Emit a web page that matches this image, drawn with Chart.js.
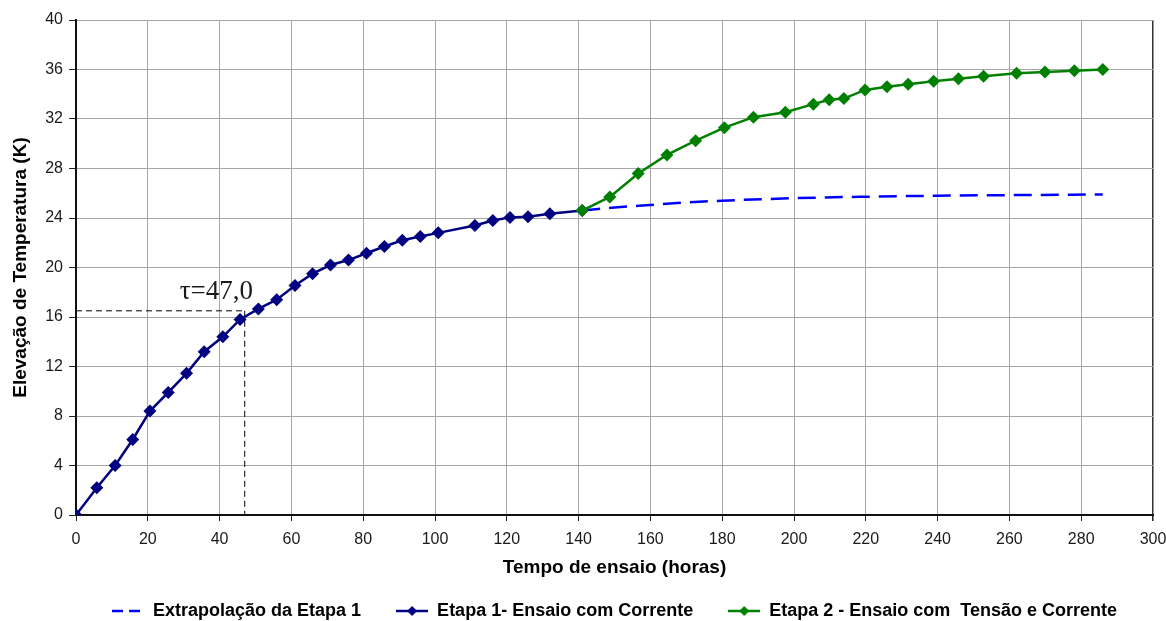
<!DOCTYPE html>
<html>
<head>
<meta charset="utf-8">
<script src="https://cdn.jsdelivr.net/npm/chart.js@4.4.1/dist/chart.umd.min.js"></script>
<style>
  html, body { margin: 0; padding: 0; background: #fff; }
  #wrap { width: 1166px; height: 621px; }
</style>
</head>
<body>
<div id="wrap"><canvas id="grafico"></canvas></div>
<script>
// valores
var etapa1Horas = [0, 5.8, 10.9, 15.8, 20.6, 25.7, 30.8, 35.7, 40.9, 45.7, 50.8, 55.9, 61.0, 65.9, 70.9, 75.9, 80.9, 85.9, 90.9, 95.9, 100.9, 111.1, 116.1, 120.9, 125.9, 132.0, 141.0];
var etapa1Temp  = [0, 2.2, 4.0, 6.1, 8.4, 9.9, 11.45, 13.2, 14.4, 15.8, 16.65, 17.4, 18.55, 19.5, 20.2, 20.6, 21.15, 21.7, 22.2, 22.5, 22.8, 23.4, 23.8, 24.05, 24.1, 24.35, 24.6];

var etapa2Horas = [141.0, 148.7, 156.6, 164.6, 172.6, 180.6, 188.7, 197.6, 205.4, 209.8, 213.9, 219.8, 225.9, 231.8, 238.9, 245.8, 252.8, 262.0, 269.9, 278.1, 286.0];
var etapa2Temp  = [24.6, 25.7, 27.6, 29.1, 30.25, 31.3, 32.15, 32.55, 33.2, 33.55, 33.65, 34.35, 34.6, 34.8, 35.05, 35.25, 35.45, 35.7, 35.8, 35.9, 36.0];

var extrapHoras = [141, 150, 160, 170, 180, 200, 220, 240, 260, 286];
var extrapTemp  = [24.6, 24.85, 25.05, 25.25, 25.4, 25.6, 25.72, 25.8, 25.85, 25.9];

var legendas = ['Extrapolação da Etapa 1', 'Etapa 1- Ensaio com Corrente', 'Etapa 2 - Ensaio com  Tensão e Corrente'];

var tau = 47.0;
var tauTemp = 16.5;

var fonte = '"Liberation Sans", Arial, sans-serif';

function pontos(xs, ys) {
    return xs.map(function (x, i) { return {x: x, y: ys[i]}; });
}

// icone da legenda: linha + losango
function iconeLegenda(cor, tracejado, marcador) {
    var c = document.createElement('canvas');
    c.width = 32; c.height = 14;
    var g = c.getContext('2d');
    g.strokeStyle = cor;
    g.lineWidth = 2.5;
    if (tracejado) g.setLineDash([11, 6]);
    g.beginPath();
    g.moveTo(0, 7); g.lineTo(32, 7);
    g.stroke();
    if (marcador) {
        g.fillStyle = cor;
        g.beginPath();
        g.moveTo(16, 2); g.lineTo(21, 7); g.lineTo(16, 12); g.lineTo(11, 7);
        g.closePath();
        g.fill();
    }
    return c;
}

var icones = [
    iconeLegenda('#0000ff', true, false),
    iconeLegenda('#000080', false, true),
    iconeLegenda('#008000', false, true)
];

// linhas tracejadas de tau e texto
var tauPlugin = {
    id: 'tau',
    beforeDatasetsDraw: function (chart) {
        var c = chart.ctx, xs = chart.scales.x, ys = chart.scales.y;
        var px = xs.getPixelForValue(tau), py = ys.getPixelForValue(tauTemp);
        c.save();
        c.strokeStyle = '#000';
        c.lineWidth = 1;
        c.setLineDash([6, 4]);
        c.beginPath();
        c.moveTo(xs.getPixelForValue(0), py); c.lineTo(px, py);
        c.moveTo(px, py); c.lineTo(px, ys.getPixelForValue(0));
        c.stroke();
        c.restore();
    },
    afterDatasetsDraw: function (chart) {
        var c = chart.ctx, xs = chart.scales.x, ys = chart.scales.y;
        c.save();
        c.font = '27px "Liberation Serif", "Times New Roman", serif';
        c.fillStyle = '#1a1a1a';
        c.textAlign = 'center';
        c.textBaseline = 'alphabetic';
        c.fillText('τ=' + tau.toFixed(1).replace('.', ','), xs.getPixelForValue(39.1), ys.getPixelForValue(17.45));
        c.restore();
    }
};

var ctx = document.getElementById('grafico').getContext('2d');
var grafico = new Chart(ctx, {
    type: 'line',
    data: {
        datasets: [{
            label: legendas[0],
            data: pontos(extrapHoras, extrapTemp),
            borderColor: '#0000ff',
            borderWidth: 2.5,
            borderDash: [18, 9],
            pointRadius: 0,
            cubicInterpolationMode: 'monotone',
            order: 2
        }, {
            label: legendas[1],
            data: pontos(etapa1Horas, etapa1Temp),
            borderColor: '#000080',
            backgroundColor: '#000080',
            borderWidth: 2.5,
            pointStyle: 'rectRot',
            pointRadius: 6.5,
            pointBorderWidth: 0,
            order: 1
        }, {
            label: legendas[2],
            data: pontos(etapa2Horas, etapa2Temp),
            borderColor: '#008000',
            backgroundColor: '#008000',
            borderWidth: 2.5,
            pointStyle: 'rectRot',
            pointRadius: 6.5,
            pointBorderWidth: 0,
            order: 0
        }]
    },
    options: {
        responsive: true,
        maintainAspectRatio: false,
        animation: false,
        layout: { padding: { left: 0, right: 0, top: 20, bottom: -9 } },
        plugins: {
            tooltip: { enabled: false },
            legend: {
                position: 'bottom',
                fullSize: false,
                labels: {
                    usePointStyle: true,
                    pointStyleWidth: 32,
                    padding: 35,
                    color: '#000',
                    font: { family: fonte, size: 18, weight: 'bold' },
                    generateLabels: function (chart) {
                        return legendas.map(function (t, i) {
                            return { text: t, pointStyle: icones[i], datasetIndex: i, fontColor: '#000', lineWidth: 0, strokeStyle: 'transparent', fillStyle: 'transparent' };
                        });
                    }
                }
            }
        },
        scales: {
            x: {
                type: 'linear',
                min: 0, max: 300,
                ticks: { stepSize: 20, color: '#1a1a1a', padding: 9, maxRotation: 0,
                         font: { family: fonte, size: 16 } },
                grid: {
                    color: function (c) { return c.tick && c.tick.value === 300 ? '#333' : '#a6a6a6'; },
                    lineWidth: function (c) { return c.tick && c.tick.value === 300 ? 1.5 : 1; },
                    tickLength: 6, tickColor: '#222'
                },
                border: { color: '#111', width: 2 },
                title: { display: true, text: 'Tempo de ensaio (horas)', color: '#000', padding: { top: 0, bottom: -12 },
                         font: { family: fonte, size: 19, weight: 'bold' } },
                afterFit: function (s) { s.height = 52; s.paddingRight = 13; }
            },
            y: {
                min: 0, max: 40,
                ticks: { stepSize: 4, color: '#1a1a1a', padding: 6,
                         font: { family: fonte, size: 16 } },
                grid: { color: '#a6a6a6', lineWidth: 1, tickLength: 7, tickColor: '#222' },
                border: { color: '#111', width: 2 },
                title: { display: true, text: 'Elevação de Temperatura (K)', color: '#000', padding: { top: 9, bottom: 0 },
                         font: { family: fonte, size: 19, weight: 'bold' } },
                afterFit: function (s) { s.width = 76; }
            }
        }
    },
    plugins: [tauPlugin]
});
</script>
</body>
</html>
